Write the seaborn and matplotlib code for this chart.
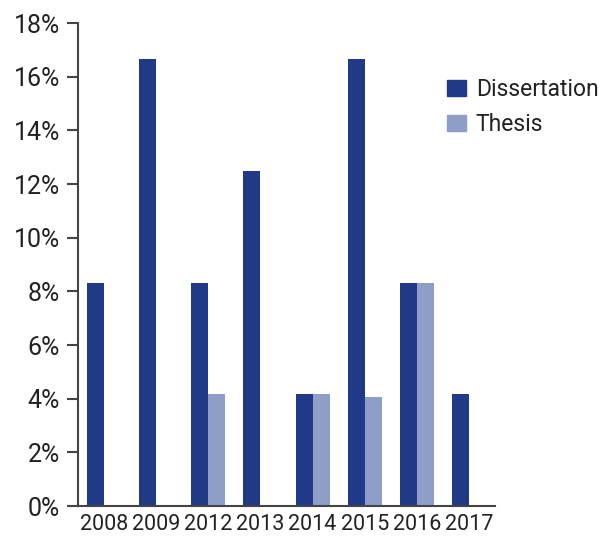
import numpy as np
import pandas as pd
import matplotlib.pyplot as plt
import matplotlib.ticker as mticker
import seaborn as sns

sns.set_theme(style="white")
plt.rcParams["font.family"] = ["Roboto", "DejaVu Sans"]

years = ["2008", "2009", "2012", "2013", "2014", "2015", "2016", "2017"]
dissertation = [8.33, 16.67, 8.33, 12.5, 4.17, 16.67, 8.33, 4.17]
thesis = [0, 0, 4.17, 0, 4.17, 4.05, 8.33, 0]

df = pd.DataFrame({
    "year": years * 2,
    "share": dissertation + thesis,
    "type": ["Dissertation"] * len(years) + ["Thesis"] * len(years),
})

colors = ["#213a87", "#8e9ec6"]

fig = plt.figure(figsize=(6, 5.39), dpi=100)
ax = fig.add_axes([0.13, 0.0612, 0.695, 0.896])

sns.barplot(data=df, x="year", y="share", hue="type", palette=colors,
            width=0.65, saturation=1, linewidth=0, ax=ax, legend=False)

ax.set_ylim(0, 18)
ax.set_xlim(-0.5, len(years) - 0.5)
ax.yaxis.set_major_locator(mticker.MultipleLocator(2))
ax.yaxis.set_major_formatter(mticker.FuncFormatter(lambda v, p: f"{v:.0f}%"))
ax.set_xlabel("")
ax.set_ylabel("")

ax.set_xticks(np.arange(-0.5, len(years)), minor=True)
ax.tick_params(axis="x", which="major", length=0, labelsize=15.5, pad=6, labelcolor="#222222")
ax.tick_params(axis="x", which="minor", length=6, width=1.5, color="#333333", direction="out")
ax.tick_params(axis="y", length=8, width=1.5, color="#444444", labelsize=18, pad=5,
               labelcolor="#222222", left=True)

for s in ["top", "right"]:
    ax.spines[s].set_visible(False)
for s in ["left", "bottom"]:
    ax.spines[s].set_color("#444444")
    ax.spines[s].set_linewidth(1.5)

handles = [plt.Rectangle((0, 0), 1, 1, color=c) for c in colors]
fig.legend(handles, ["Dissertation", "Thesis"], loc="upper left",
           bbox_to_anchor=(0.745, 0.855), frameon=False, fontsize=16.5,
           handlelength=0.85, handleheight=0.7, handletextpad=0.4,
           labelspacing=0.5, borderpad=0, borderaxespad=0, labelcolor="#222222")

fig.savefig("out.png", dpi=100)
